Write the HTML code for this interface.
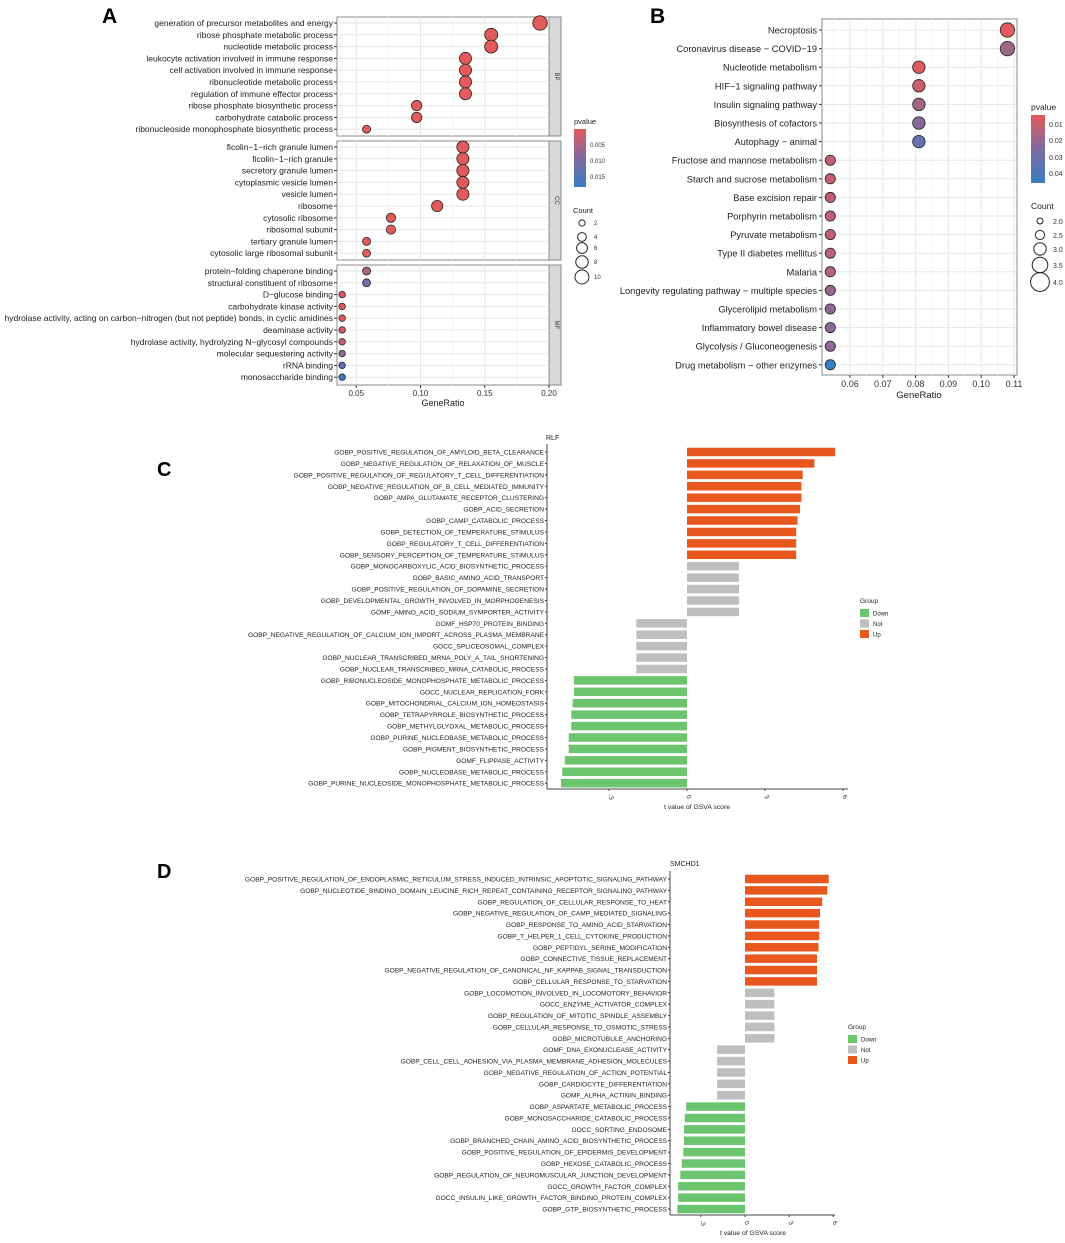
<!DOCTYPE html>
<html><head><meta charset="utf-8"><style>
body{margin:0;background:#fff;width:1065px;height:1238px;overflow:hidden}
svg{font-family:"Liberation Sans",Arial,sans-serif}
</style></head><body>
<svg id="s" width="1065" height="1238" xmlns="http://www.w3.org/2000/svg">
<text x="102" y="23" font-size="21" font-weight="bold">A</text>
<text x="650" y="23" font-size="21" font-weight="bold">B</text>
<text x="157" y="476" font-size="20" font-weight="bold">C</text>
<text x="157" y="878" font-size="20" font-weight="bold">D</text>
</svg>
<script>
const aLabels=["generation of precursor metabolites and energy","ribose phosphate metabolic process","nucleotide metabolic process","leukocyte activation involved in immune response","cell activation involved in immune response","ribonucleotide metabolic process","regulation of immune effector process","ribose phosphate biosynthetic process","carbohydrate catabolic process","ribonucleoside monophosphate biosynthetic process",
"ficolin−1−rich granule lumen","ficolin−1−rich granule","secretory granule lumen","cytoplasmic vesicle lumen","vesicle lumen","ribosome","cytosolic ribosome","ribosomal subunit","tertiary granule lumen","cytosolic large ribosomal subunit",
"protein−folding chaperone binding","structural constituent of ribosome","D−glucose binding","carbohydrate kinase activity","hydrolase activity, acting on carbon−nitrogen (but not peptide) bonds, in cyclic amidines","deaminase activity","hydrolase activity, hydrolyzing N−glycosyl compounds","molecular sequestering activity","rRNA binding","monosaccharide binding"];
const aRatio=[0.193,0.155,0.155,0.135,0.135,0.135,0.135,0.097,0.097,0.058,0.133,0.133,0.133,0.133,0.133,0.113,0.077,0.077,0.058,0.058,0.058,0.058,0.039,0.039,0.039,0.039,0.039,0.039,0.039,0.039];
const aCount=[10,8,8,7,7,7,7,5,5,3,7,7,7,7,7,6,4,4,3,3,3,3,2,2,2,2,2,2,2,2];
const aP=[0.001,0.001,0.001,0.001,0.001,0.001,0.001,0.001,0.001,0.001,0.001,0.001,0.001,0.001,0.001,0.001,0.001,0.001,0.001,0.001,0.006,0.012,0.001,0.001,0.001,0.002,0.004,0.008,0.014,0.018];
const aGroups=["BP","CC","MF"];
const bLabels=["Necroptosis","Coronavirus disease − COVID−19","Nucleotide metabolism","HIF−1 signaling pathway","Insulin signaling pathway","Biosynthesis of cofactors","Autophagy − animal","Fructose and mannose metabolism","Starch and sucrose metabolism","Base excision repair","Porphyrin metabolism","Pyruvate metabolism","Type II diabetes mellitus","Malaria","Longevity regulating pathway − multiple species","Glycerolipid metabolism","Inflammatory bowel disease","Glycolysis / Gluconeogenesis","Drug metabolism − other enzymes"];
const bRatio=[0.108,0.108,0.081,0.081,0.081,0.081,0.081,0.054,0.054,0.054,0.054,0.054,0.054,0.054,0.054,0.054,0.054,0.054,0.054];
const bCount=[4,4,3,3,3,3,3,2,2,2,2,2,2,2,2,2,2,2,2];
const bP=[0.003,0.017,0.004,0.008,0.016,0.022,0.032,0.010,0.010,0.011,0.011,0.011,0.012,0.012,0.019,0.020,0.021,0.021,0.045];
const cLabels=["GOBP_POSITIVE_REGULATION_OF_AMYLOID_BETA_CLEARANCE","GOBP_NEGATIVE_REGULATION_OF_RELAXATION_OF_MUSCLE","GOBP_POSITIVE_REGULATION_OF_REGULATORY_T_CELL_DIFFERENTIATION","GOBP_NEGATIVE_REGULATION_OF_B_CELL_MEDIATED_IMMUNITY","GOBP_AMPA_GLUTAMATE_RECEPTOR_CLUSTERING","GOBP_ACID_SECRETION","GOBP_CAMP_CATABOLIC_PROCESS","GOBP_DETECTION_OF_TEMPERATURE_STIMULUS","GOBP_REGULATORY_T_CELL_DIFFERENTIATION","GOBP_SENSORY_PERCEPTION_OF_TEMPERATURE_STIMULUS","GOBP_MONOCARBOXYLIC_ACID_BIOSYNTHETIC_PROCESS","GOBP_BASIC_AMINO_ACID_TRANSPORT","GOBP_POSITIVE_REGULATION_OF_DOPAMINE_SECRETION","GOBP_DEVELOPMENTAL_GROWTH_INVOLVED_IN_MORPHOGENESIS","GOMF_AMINO_ACID_SODIUM_SYMPORTER_ACTIVITY","GOMF_HSP70_PROTEIN_BINDING","GOBP_NEGATIVE_REGULATION_OF_CALCIUM_ION_IMPORT_ACROSS_PLASMA_MEMBRANE","GOCC_SPLICEOSOMAL_COMPLEX","GOBP_NUCLEAR_TRANSCRIBED_MRNA_POLY_A_TAIL_SHORTENING","GOBP_NUCLEAR_TRANSCRIBED_MRNA_CATABOLIC_PROCESS","GOBP_RIBONUCLEOSIDE_MONOPHOSPHATE_METABOLIC_PROCESS","GOCC_NUCLEAR_REPLICATION_FORK","GOBP_MITOCHONDRIAL_CALCIUM_ION_HOMEOSTASIS","GOBP_TETRAPYRROLE_BIOSYNTHETIC_PROCESS","GOBP_METHYLGLYOXAL_METABOLIC_PROCESS","GOBP_PURINE_NUCLEOBASE_METABOLIC_PROCESS","GOBP_PIGMENT_BIOSYNTHETIC_PROCESS","GOMF_FLIPPASE_ACTIVITY","GOBP_NUCLEOBASE_METABOLIC_PROCESS","GOBP_PURINE_NUCLEOSIDE_MONOPHOSPHATE_METABOLIC_PROCESS"];
const cValues=[5.7,4.9,4.45,4.4,4.4,4.35,4.25,4.2,4.2,4.2,2,2,2,2,2,-1.95,-1.95,-1.95,-1.95,-1.95,-4.35,-4.35,-4.4,-4.45,-4.45,-4.55,-4.55,-4.7,-4.8,-4.85];
const dLabels=["GOBP_POSITIVE_REGULATION_OF_ENDOPLASMIC_RETICULUM_STRESS_INDUCED_INTRINSIC_APOPTOTIC_SIGNALING_PATHWAY","GOBP_NUCLEOTIDE_BINDING_DOMAIN_LEUCINE_RICH_REPEAT_CONTAINING_RECEPTOR_SIGNALING_PATHWAY","GOBP_REGULATION_OF_CELLULAR_RESPONSE_TO_HEAT","GOBP_NEGATIVE_REGULATION_OF_CAMP_MEDIATED_SIGNALING","GOBP_RESPONSE_TO_AMINO_ACID_STARVATION","GOBP_T_HELPER_1_CELL_CYTOKINE_PRODUCTION","GOBP_PEPTIDYL_SERINE_MODIFICATION","GOBP_CONNECTIVE_TISSUE_REPLACEMENT","GOBP_NEGATIVE_REGULATION_OF_CANONICAL_NF_KAPPAB_SIGNAL_TRANSDUCTION","GOBP_CELLULAR_RESPONSE_TO_STARVATION","GOBP_LOCOMOTION_INVOLVED_IN_LOCOMOTORY_BEHAVIOR","GOCC_ENZYME_ACTIVATOR_COMPLEX","GOBP_REGULATION_OF_MITOTIC_SPINDLE_ASSEMBLY","GOBP_CELLULAR_RESPONSE_TO_OSMOTIC_STRESS","GOBP_MICROTUBULE_ANCHORING","GOMF_DNA_EXONUCLEASE_ACTIVITY","GOBP_CELL_CELL_ADHESION_VIA_PLASMA_MEMBRANE_ADHESION_MOLECULES","GOBP_NEGATIVE_REGULATION_OF_ACTION_POTENTIAL","GOBP_CARDIOCYTE_DIFFERENTIATION","GOMF_ALPHA_ACTININ_BINDING","GOBP_ASPARTATE_METABOLIC_PROCESS","GOBP_MONOSACCHARIDE_CATABOLIC_PROCESS","GOCC_SORTING_ENDOSOME","GOBP_BRANCHED_CHAIN_AMINO_ACID_BIOSYNTHETIC_PROCESS","GOBP_POSITIVE_REGULATION_OF_EPIDERMIS_DEVELOPMENT","GOBP_HEXOSE_CATABOLIC_PROCESS","GOBP_REGULATION_OF_NEUROMUSCULAR_JUNCTION_DEVELOPMENT","GOCC_GROWTH_FACTOR_COMPLEX","GOCC_INSULIN_LIKE_GROWTH_FACTOR_BINDING_PROTEIN_COMPLEX","GOBP_GTP_BIOSYNTHETIC_PROCESS"];
const dValues=[5.7,5.6,5.25,5.1,5.05,5.05,5.0,4.9,4.9,4.9,2,2,2,2,2,-1.9,-1.9,-1.9,-1.9,-1.9,-4.0,-4.1,-4.15,-4.15,-4.2,-4.3,-4.4,-4.55,-4.55,-4.6];
const barTicks=[-3,0,3,6];

const S=document.getElementById('s');const NS="http://www.w3.org/2000/svg";
function el(t,a,txt){const e=document.createElementNS(NS,t);for(const k in a)e.setAttribute(k,a[k]);if(txt!==undefined)e.textContent=txt;S.appendChild(e);return e;}
function lerp(a,b,t){return a+(b-a)*t}
function pcol(p,min,max){let t=Math.max(0,Math.min(1,(p-min)/(max-min)));const c0=[226,90,90],c1=[128,106,160],c2=[56,126,196];let c=t<0.5?c0.map((v,i)=>lerp(v,c1[i],t*2)):c1.map((v,i)=>lerp(v,c2[i],(t-0.5)*2));return `rgb(${c.map(Math.round).join(',')})`;}

// ---- Panel A
(function(){
const L=337,R=549,x=v=>lerp(L,R,(v-0.035)/(0.20-0.035));
const boxes=[[17,136],[141,260],[265,385]];
const rowY=i=>{const g=Math.floor(i/10),k=i%10;return boxes[g][0]+6+k*11.8;};
boxes.forEach((b,g)=>{
 const r=el('rect',{x:L,y:b[0],width:R-L,height:b[1]-b[0],fill:'#fff',stroke:'#888','stroke-width':1});
 
 [0.0375,0.075,0.125,0.175].forEach(v=>el('line',{x1:x(v),x2:x(v),y1:b[0],y2:b[1],stroke:'#f3f3f3'}));
 [0.05,0.10,0.15,0.20].forEach(v=>el('line',{x1:x(v),x2:x(v),y1:b[0],y2:b[1],stroke:'#e6e6e6'}));
 const s=el('rect',{x:R,y:b[0],width:12,height:b[1]-b[0],fill:'#d9d9d9',stroke:'#888'});
 
 const cy=(b[0]+b[1])/2;el('text',{x:R+6,y:cy,'font-size':6,'text-anchor':'middle',transform:`rotate(90 ${R+6} ${cy})`,fill:'#333'},aGroups[g]);
});
aLabels.forEach((lab,i)=>{const y=rowY(i);
 el('line',{x1:L,x2:R,y1:y,y2:y,stroke:'#e6e6e6'});
 el('line',{x1:L-3,x2:L,y1:y,y2:y,stroke:'#333'});
 const t=el('text',{x:L-4,y:y+3,'font-size':8.5,'text-anchor':'end',fill:'#222'},lab);
 
});
aLabels.forEach((lab,i)=>{const c=el('circle',{cx:x(aRatio[i]),cy:rowY(i),r:Math.sqrt(aCount[i])*2.3,fill:pcol(aP[i],0.001,0.019),stroke:'#222','stroke-width':0.8});
 });
[0.05,0.10,0.15,0.20].forEach(v=>{el('line',{x1:x(v),x2:x(v),y1:385,y2:388,stroke:'#333'});el('text',{x:x(v),y:396,'font-size':8,'text-anchor':'middle',fill:'#333'},v.toFixed(2));});
const at=el('text',{x:443,y:406,'font-size':9,'text-anchor':'middle',fill:'#222'},'GeneRatio');
el('text',{x:574,y:124,'font-size':7.5,fill:'#222'},'pvalue');
const gr=el('defs',{});gr.innerHTML='<linearGradient id="ga" x1="0" y1="0" x2="0" y2="1"><stop offset="0" stop-color="rgb(226,90,90)"/><stop offset="0.5" stop-color="rgb(128,106,160)"/><stop offset="1" stop-color="rgb(56,126,196)"/></linearGradient>';
const cb=el('rect',{x:574,y:129,width:12,height:58,fill:'url(#ga)'});
[['0.005',145],['0.010',161],['0.015',177]].forEach(([t,y])=>el('text',{x:590,y:y+2,'font-size':6,fill:'#333'},t));
el('text',{x:573,y:213,'font-size':7.5,fill:'#222'},'Count');
[[2,223],[4,237],[6,248],[8,262],[10,277]].forEach(([c,y])=>{el('circle',{cx:582,cy:y,r:Math.sqrt(c)*2.2,fill:'none',stroke:'#222'});el('text',{x:594,y:y+2,'font-size':6,fill:'#333'},c);});
})();

// ---- Panel B
(function(){
const L=822,R=1017,T=19,B=375,x=v=>lerp(850,1014,(v-0.06)/0.05);
const y=i=>30+i*18.6;
const r=el('rect',{x:L,y:T,width:R-L,height:B-T,fill:'#fff',stroke:'#888'});
for(let v=0.055;v<0.112;v+=0.01)el('line',{x1:x(v),x2:x(v),y1:T,y2:B,stroke:'#f3f3f3'});
[0.06,0.07,0.08,0.09,0.10,0.11].forEach(v=>el('line',{x1:x(v),x2:x(v),y1:T,y2:B,stroke:'#e6e6e6'}));
bLabels.forEach((lab,i)=>{el('line',{x1:L,x2:R,y1:y(i),y2:y(i),stroke:'#e6e6e6'});el('line',{x1:L-3,x2:L,y1:y(i),y2:y(i),stroke:'#333'});
 const t=el('text',{x:L-5,y:y(i)+3.5,'font-size':9.3,'text-anchor':'end',fill:'#222'},lab);});
bLabels.forEach((lab,i)=>{const c=el('circle',{cx:x(bRatio[i]),cy:y(i),r:Math.sqrt(bCount[i])*3.6,fill:pcol(bP[i],0.003,0.045),stroke:'#222','stroke-width':0.8});});
[0.06,0.07,0.08,0.09,0.10,0.11].forEach(v=>{el('line',{x1:x(v),x2:x(v),y1:B,y2:B+3,stroke:'#333'});el('text',{x:x(v),y:B+12,'font-size':9,'text-anchor':'middle',fill:'#333'},v.toFixed(2));});
const at=el('text',{x:919,y:398,'font-size':9.5,'text-anchor':'middle',fill:'#222'},'GeneRatio');
el('text',{x:1031,y:110,'font-size':8.5,fill:'#222'},'pvalue');
const cb=el('rect',{x:1031,y:115,width:14,height:68,fill:'url(#ga)'});
[['0.01',124],['0.02',140],['0.03',157],['0.04',173]].forEach(([t,yy])=>el('text',{x:1049,y:yy+3,'font-size':7,fill:'#333'},t));
el('text',{x:1031,y:209,'font-size':8.5,fill:'#222'},'Count');
[['2.0',221],['2.5',235],['3.0',249],['3.5',265],['4.0',282]].forEach(([t,yy],k)=>{el('circle',{cx:1040,cy:yy,r:3+k*1.6,fill:'none',stroke:'#222'});el('text',{x:1053,y:yy+3,'font-size':7,fill:'#333'},t);});
})();

// ---- Bar panels
function bars(labels,vals,o){
 const x=v=>o.x0+v*o.u;const y=i=>o.y0+i*o.sp;
 el('text',{x:o.title[0],y:o.title[1],'font-size':7,fill:'#222'},o.name);
 labels.forEach((lab,i)=>{const v=vals[i];const col=v>=3?'#E8581E':(v>-3?'#BEBEBE':'#6DC46F');
  const b=el('rect',{x:Math.min(x(0),x(v)),y:y(i)-o.bh/2,width:Math.abs(x(v)-x(0)),height:o.bh,fill:col});
  
  el('line',{x1:o.L-2,x2:o.L,y1:y(i),y2:y(i),stroke:'#333'});
  const t=el('text',{x:o.L-3,y:y(i)+2.5,'font-size':6.6,'text-anchor':'end',fill:'#222'},lab);});
 el('line',{x1:o.L,x2:o.L,y1:y(0)-8,y2:o.ax,stroke:'#444','stroke-width':1});
 el('line',{x1:o.L,x2:o.R,y1:o.ax,y2:o.ax,stroke:'#444','stroke-width':1});
 barTicks.forEach(t=>{el('line',{x1:x(t),x2:x(t),y1:o.ax,y2:o.ax+2,stroke:'#444'});const yy=o.ax+9;el('text',{x:x(t),y:yy,'font-size':6.5,'text-anchor':'middle',fill:'#333',transform:`rotate(60 ${x(t)} ${yy})`},t);});
 const at=el('text',{x:x(0)+o.tOff,y:o.ax+20,'font-size':6.8,'text-anchor':'middle',fill:'#222'},'t value of GSVA score');
 el('text',{x:o.lg[0],y:o.lg[1],'font-size':6.5,fill:'#222'},'Group');
 [['Down','#6DC46F'],['Not','#BEBEBE'],['Up','#E8581E']].forEach(([n,c],k)=>{const r=el('rect',{x:o.lg[0],y:o.lg[1]+6+k*10.5,width:9,height:8,fill:c});el('text',{x:o.lg[0]+13,y:o.lg[1]+12.5+k*10.5,'font-size':6,fill:'#222'},n);});
}
bars(cLabels,cValues,{x0:687,u:26,y0:452,sp:11.42,bh:8.5,L:547,R:848,ax:789,title:[546,440],name:'RLF',lg:[860,603],tOff:10});
bars(dLabels,dValues,{x0:745,u:14.7,y0:879,sp:11.38,bh:8.5,L:670,R:835,ax:1215,title:[670,866],name:'SMCHD1',lg:[848,1029],tOff:8});
</script>
</body></html>
